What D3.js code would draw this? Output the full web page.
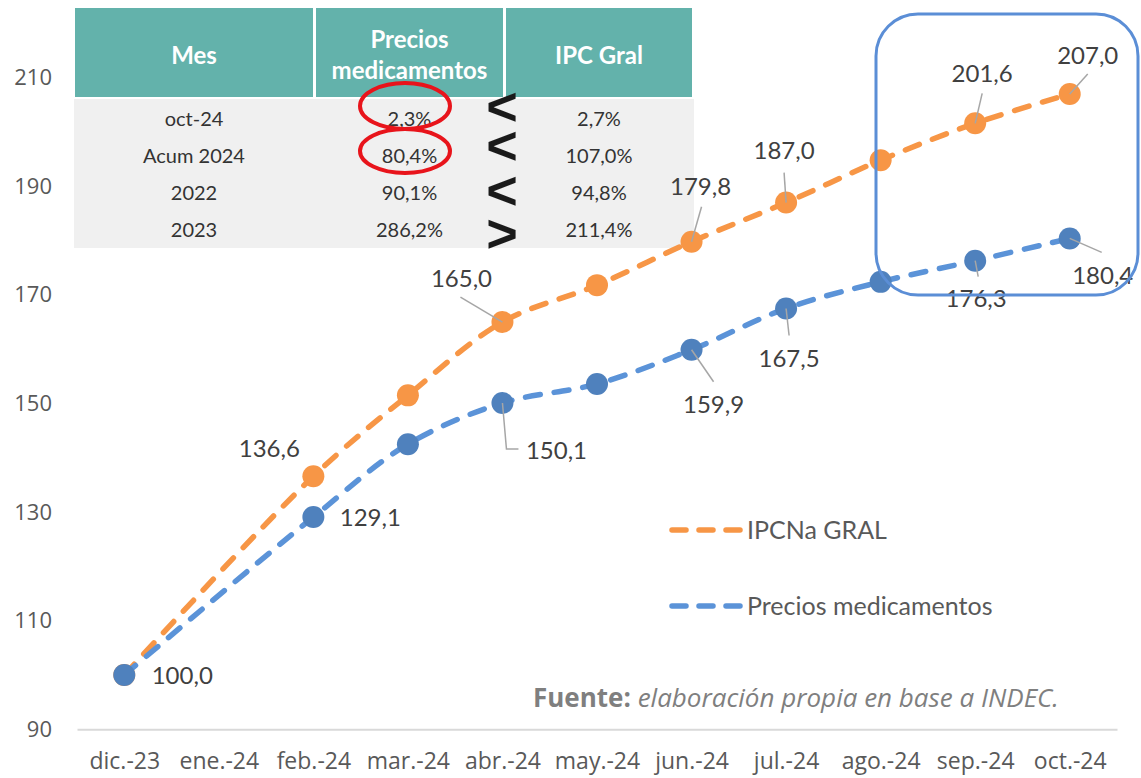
<!DOCTYPE html>
<html>
<head>
<meta charset="utf-8">
<script src="https://cdn.jsdelivr.net/npm/d3@7/dist/d3.min.js"></script>
<style>
  body { margin: 0; background: #fff; }
  svg { display: block; font-family: Lato, sans-serif; }
</style>
</head>
<body>
<svg id="chart"></svg>
<script>
// data (dic-23 = 100)
const months = ['dic.-23', 'ene.-24', 'feb.-24', 'mar.-24', 'abr.-24', 'may.-24',
  'jun.-24', 'jul.-24', 'ago.-24', 'sep.-24', 'oct.-24'];
const ipcGral = [100.0, null, 136.6, 151.5, 165.0, 171.8, 179.8, 187.0, 194.8, 201.6, 207.0];
const preciosMed = [100.0, null, 129.1, 142.5, 150.1, 153.6, 159.9, 167.5, 172.4, 176.3, 180.4];
const yTicks = [90, 110, 130, 150, 170, 190, 210];

const tableHead = ['Mes', 'Precios medicamentos', 'IPC Gral'];
const tableMes = ['oct-24', 'Acum 2024', '2022', '2023'];
const tableMed = ['2,3%', '80,4%', '90,1%', '286,2%'];
const tableIpc = ['2,7%', '107,0%', '94,8%', '211,4%'];
const compareSigns = ['<', '<', '<', '>'];

const width = 1141;
const height = 778;
const orange = '#F79646';
const blueLine = '#5B93D8';
const blueDot = '#4F81BD';

// where each data label sits, relative to its point (leader = polyline from point)
const ipcLabels = [
  { i: 2, dx: -44, dy: -28, leader: null },
  { i: 4, dx: -41, dy: -44, leader: [[-42, -25]] },
  { i: 6, dx: 9, dy: -55, leader: [[10, -35]] },
  { i: 7, dx: -2, dy: -52, leader: [[-2, -30]] },
  { i: 9, dx: 7, dy: -50, leader: [[7, -30]] },
  { i: 10, dx: 18, dy: -39, leader: [[18, -20]] }
];
const medLabels = [
  { i: 0, dx: 58, dy: 0, leader: null },
  { i: 2, dx: 57, dy: 0, leader: null },
  { i: 4, dx: 54, dy: 47, leader: [[4, 46], [16, 46]] },
  { i: 6, dx: 22, dy: 55, leader: [[22, 32]] },
  { i: 7, dx: 3, dy: 50, leader: [[3, 27]] },
  { i: 9, dx: 1, dy: 38, leader: [[3, 16]] },
  { i: 10, dx: 33, dy: 37, leader: [[32, 14]] }
];

const svg = d3.select('#chart')
  .attr('width', width)
  .attr('height', height);

const x = d3.scalePoint()
  .domain(months)
  .range([77, 1117])
  .padding(0.5);

const y = d3.scaleLinear()
  .domain([90, 210])
  .range([729.3, 77.7]);

// ---- table (top left) ----
const table = svg.append('g');
const cols = [[75, 313], [316, 503], [506, 692]];

table.append('rect')
  .attr('x', 74).attr('y', 99)
  .attr('width', 620).attr('height', 149)
  .attr('fill', '#F0F0F0');

table.selectAll('rect.head')
  .data(cols)
  .enter()
  .append('rect')
  .attr('class', 'head')
  .attr('x', d => d[0])
  .attr('y', 8)
  .attr('width', d => d[1] - d[0])
  .attr('height', 89)
  .attr('fill', '#63B2AB');

const colMid = cols.map(c => (c[0] + c[1]) / 2);

tableHead.forEach((h, k) => {
  const words = k === 1 ? ['Precios', 'medicamentos'] : [h];
  const t = table.append('text')
    .attr('x', colMid[k])
    .attr('text-anchor', 'middle')
    .attr('fill', '#fff')
    .attr('font-weight', 700)
    .attr('font-size', 24);
  words.forEach((w, j) => {
    t.append('tspan')
      .attr('x', colMid[k])
      .attr('y', words.length === 1 ? 64 : 48 + j * 31)
      .text(w);
  });
});

const rowY = [119, 156, 193, 230];
[tableMes, tableMed, tableIpc].forEach((col, k) => {
  table.selectAll(null)
    .data(col)
    .enter()
    .append('text')
    .attr('x', colMid[k])
    .attr('y', (d, j) => rowY[j])
    .attr('dy', '0.35em')
    .attr('text-anchor', 'middle')
    .attr('font-size', 20)
    .attr('fill', '#333')
    .text(d => d);
});

// comparison signs, one text with a tspan per row
const signs = table.append('text')
  .attr('text-anchor', 'middle')
  .attr('font-family', 'Liberation Sans, Arial, sans-serif')
  .attr('font-weight', 900)
  .attr('font-size', 54)
  .attr('fill', '#1a1a1a');
signs.selectAll('tspan')
  .data(compareSigns)
  .enter()
  .append('tspan')
  .attr('x', 502)
  .attr('y', (d, j) => [106, 145, 190, 233][j] + 19)
  .text(d => d);

// red circles around the highlighted values
table.selectAll('ellipse')
  .data([[405, 106, 45, 23], [405, 151, 45, 22]])
  .enter()
  .append('ellipse')
  .attr('cx', d => d[0]).attr('cy', d => d[1])
  .attr('rx', d => d[2]).attr('ry', d => d[3])
  .attr('fill', 'none')
  .attr('stroke', '#E8141B')
  .attr('stroke-width', 4);

// ---- axes ----
const yAxis = svg.append('g')
  .attr('transform', 'translate(77,0)')
  .call(d3.axisLeft(y).tickValues(yTicks).tickSize(0).tickPadding(25));
yAxis.select('.domain').remove();
yAxis.selectAll('text')
  .attr('font-family', 'Open Sans, sans-serif')
  .attr('font-size', 22)
  .attr('fill', '#595959');

const xAxis = svg.append('g')
  .attr('transform', 'translate(0,' + y(90) + ')')
  .call(d3.axisBottom(x).tickSize(0).tickPadding(23));
xAxis.select('.domain')
  .attr('stroke', '#D9D9D9')
  .attr('stroke-width', 2);
xAxis.selectAll('text')
  .attr('font-family', 'Open Sans, sans-serif')
  .attr('font-size', 23)
  .attr('fill', '#595959');

// ---- series ----
const line = d3.line()
  .x(d => x(d.m))
  .y(d => y(d.v))
  .curve(d3.curveCatmullRom);

function points(values) {
  return values
    .map((v, i) => ({ m: months[i], v: v, i: i }))
    .filter(d => d.v !== null);
}

function drawSeries(values, lineColor, dotColor) {
  const pts = points(values);
  svg.append('path')
    .datum(pts)
    .attr('d', line)
    .attr('fill', 'none')
    .attr('stroke', lineColor)
    .attr('stroke-width', 5.5)
    .attr('stroke-linecap', 'round')
    .attr('stroke-dasharray', '15 14');
  svg.append('g')
    .selectAll('circle')
    .data(pts)
    .enter()
    .append('circle')
    .attr('cx', d => x(d.m))
    .attr('cy', d => y(d.v))
    .attr('r', 11)
    .attr('fill', dotColor);
}

drawSeries(ipcGral, orange, orange);
drawSeries(preciosMed, blueLine, blueDot);

// ---- data labels ----
const fmt = v => v.toFixed(1).replace('.', ',');

function drawLabels(values, labels) {
  const g = svg.append('g');
  labels.forEach(l => {
    const px = x(months[l.i]);
    const py = y(values[l.i]);
    if (l.leader) {
      const pl = [[px, py]].concat(l.leader.map(p => [px + p[0], py + p[1]]));
      g.append('polyline')
        .attr('points', pl.map(p => p.join(',')).join(' '))
        .attr('fill', 'none')
        .attr('stroke', '#A6A6A6')
        .attr('stroke-width', 1.5);
    }
    g.append('text')
      .attr('x', px + l.dx)
      .attr('y', py + l.dy)
      .attr('dy', '0.36em')
      .attr('text-anchor', 'middle')
      .attr('font-size', 24)
      .attr('fill', '#404040')
      .text(fmt(values[l.i]));
  });
}

drawLabels(ipcGral, ipcLabels);
drawLabels(preciosMed, medLabels);

// ---- highlight box ----
svg.append('rect')
  .attr('x', 876).attr('y', 14)
  .attr('width', 262).attr('height', 281)
  .attr('rx', 42).attr('ry', 42)
  .attr('fill', 'none')
  .attr('stroke', '#5B8ED6')
  .attr('stroke-width', 3);

// ---- legend ----
const legend = svg.append('g');
[['IPCNa GRAL', orange, 530], ['Precios medicamentos', blueLine, 606]].forEach(d => {
  legend.append('line')
    .attr('x1', 672).attr('x2', 740)
    .attr('y1', d[2]).attr('y2', d[2])
    .attr('stroke', d[1])
    .attr('stroke-width', 5.5)
    .attr('stroke-linecap', 'round')
    .attr('stroke-dasharray', '14 13');
  legend.append('text')
    .attr('x', 747)
    .attr('y', d[2])
    .attr('dy', '0.36em')
    .attr('font-size', 25)
    .attr('fill', '#595959')
    .text(d[0]);
});

// ---- source note ----
const src = svg.append('text')
  .attr('x', 533)
  .attr('y', 707)
  .attr('font-family', 'Open Sans, sans-serif')
  .attr('font-size', 26)
  .attr('fill', '#7F7F7F');
src.append('tspan').attr('font-weight', 700).text('Fuente:');
src.append('tspan').attr('font-style', 'italic').text(' elaboración propia en base a INDEC.');
</script>
</body>
</html>
